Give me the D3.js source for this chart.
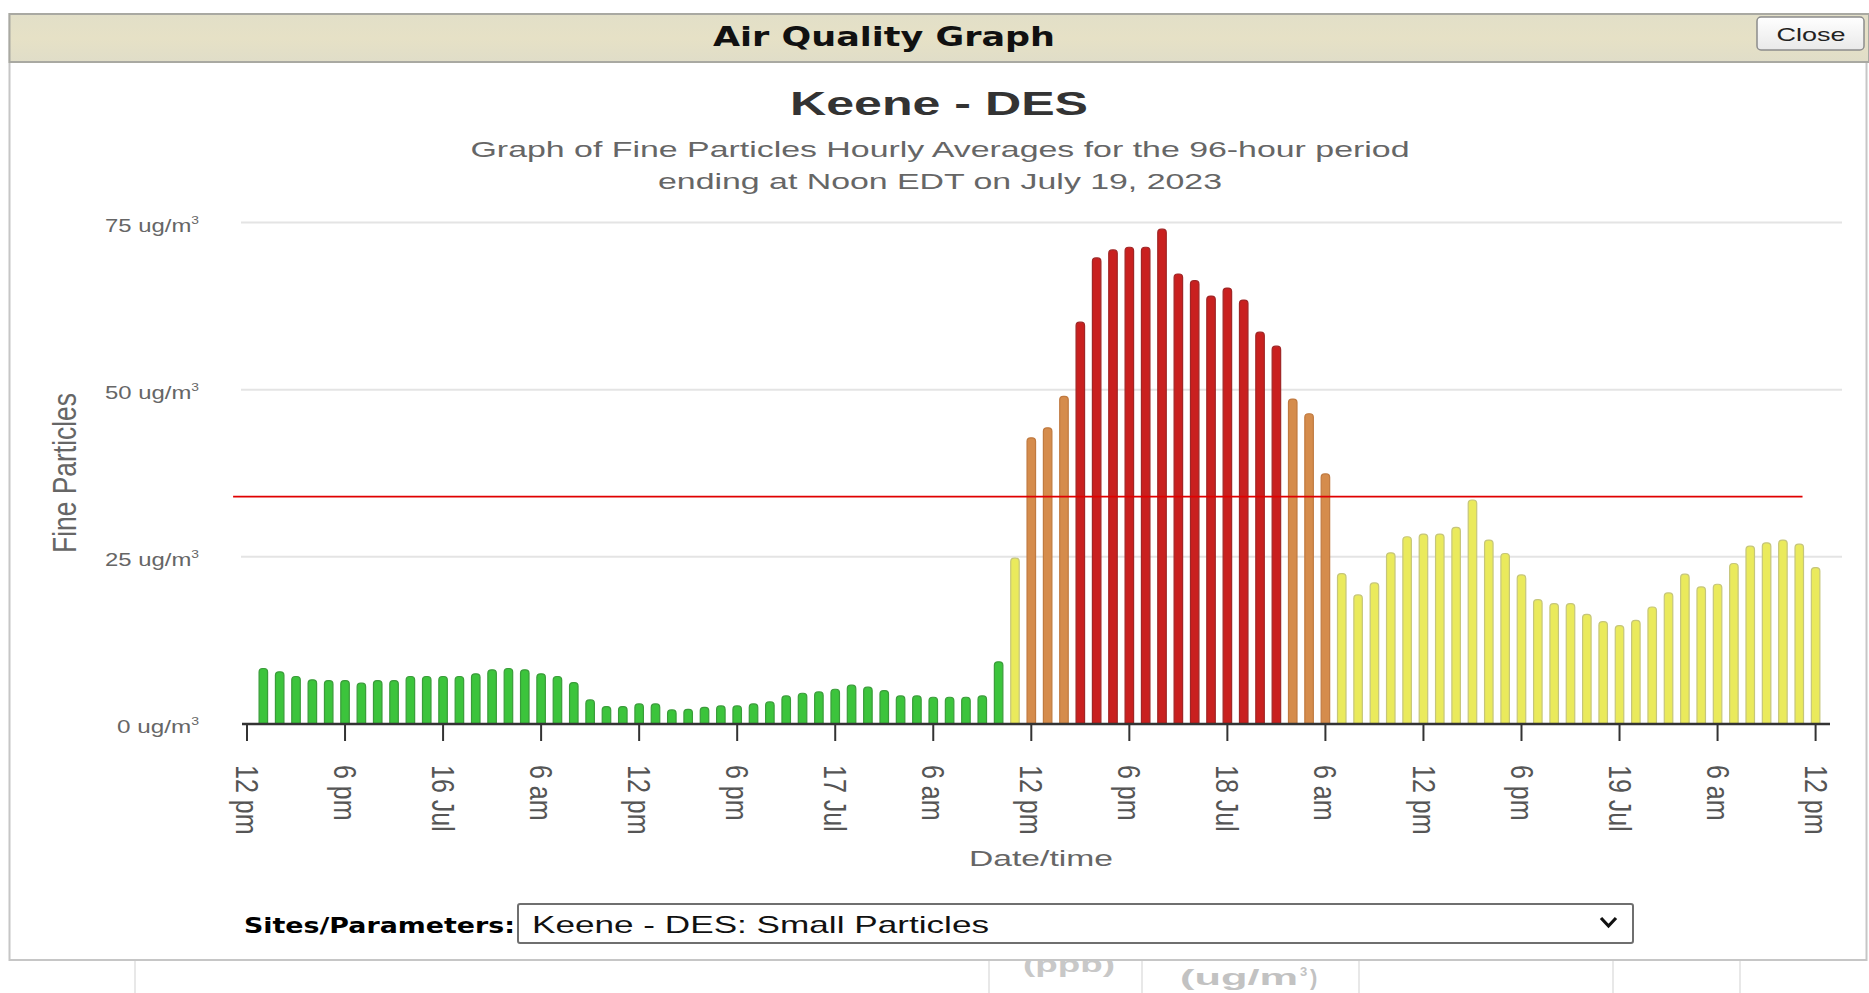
<!DOCTYPE html>
<html><head><meta charset="utf-8">
<script src="https://cdn.jsdelivr.net/npm/d3@7"></script>
<style>html,body{margin:0;padding:0;background:#fff;overflow:hidden}svg{display:block}</style>
</head><body>
<svg id="c" width="1869" height="993"></svg>
<script>
// ---------------- data ----------------
const hours = d3.range(1, 97);               // hour offsets from 12 pm Jul 15
const pm25 = [
  8.3, 7.8, 7.1, 6.6, 6.5, 6.5, 6.1, 6.5, 6.5, 7.1, 7.1, 7.1,
  7.1, 7.5, 8.1, 8.3, 8.1, 7.5, 7.1, 6.2, 3.6, 2.6, 2.6, 3.0,
  3.0, 2.1, 2.2, 2.5, 2.7, 2.7, 3.0, 3.3, 4.2, 4.6, 4.8, 5.2,
  5.8, 5.5, 5.0, 4.2, 4.2, 4.0, 4.0, 4.0, 4.2, 9.3, 24.8, 42.8,
  44.3, 49.0, 60.1, 69.7, 70.9, 71.3, 71.3, 74.0, 67.3, 66.3, 64.0, 65.2,
  63.4, 58.6, 56.5, 48.6, 46.4, 37.4, 22.5, 19.3, 21.1, 25.6, 28.0, 28.4,
  28.4, 29.4, 33.5, 27.5, 25.5, 22.3, 18.6, 18.0, 18.0, 16.4, 15.3, 14.7,
  15.5, 17.5, 19.6, 22.4, 20.5, 20.9, 24.0, 26.6, 27.1, 27.5, 26.9, 23.4
];
const tickHours = d3.range(0, 97, 6);
const tickLabels = ["12 pm","6 pm","16 Jul","6 am","12 pm","6 pm","17 Jul","6 am",
                    "12 pm","6 pm","18 Jul","6 am","12 pm","6 pm","19 Jul","6 am","12 pm"];
const yTicks = [0, 25, 50, 75];
const threshold = 34;
const aqiBreaks = [12.1, 35.5, 55.5];
const aqiFill   = ["#3cc43c", "#eaea5c", "#d58c4c", "#c9201f"];
const aqiStroke = ["#3a9c3a", "#c6c67a", "#c07a40", "#a02626"];

// ---------------- layout ----------------
const svg = d3.select("#c");
const FONT = "'Liberation Sans', Arial, sans-serif";
const x = d3.scaleLinear().domain([0, 96]).range([247, 1815.6]);
const y = d3.scaleLinear().domain([0, 75]).range([724, 222.5]);
const fillC = d3.scaleThreshold().domain(aqiBreaks).range(aqiFill);
const strokeC = d3.scaleThreshold().domain(aqiBreaks).range(aqiStroke);

function txt(parent, str, o) {
  const t = parent.append("text")
    .attr("x", o.x).attr("y", o.y)
    .attr("font-family", o.family || FONT)
    .attr("font-size", o.size)
    .attr("font-weight", o.weight || "normal")
    .attr("fill", o.fill || "#333")
    .attr("text-anchor", o.anchor || "start")
    .text(str);
  if (o.width) t.attr("textLength", o.width).attr("lengthAdjust", "spacingAndGlyphs");
  return t;
}

// ---------- background page content (behind dialog) ----------
const bg = svg.append("g");
[135, 989, 1142, 1359, 1613, 1740].forEach(v =>
  bg.append("line").attr("x1", v).attr("x2", v).attr("y1", 955).attr("y2", 993)
    .attr("stroke", "#e8e8e8").attr("stroke-width", 2));
txt(bg, "(ppb)", {x: 1069, y: 972, size: 22, weight: "bold", fill: "#c8c8c8", anchor: "middle", width: 92});
txt(bg, "(ug/m", {x: 1180, y: 985, size: 22, weight: "bold", fill: "#c2c2c2", width: 118});
bg.append("text").attr("x", 1300).attr("y", 976).attr("font-family", FONT).attr("font-size", 13)
  .attr("font-weight", "bold").attr("fill", "#c2c2c2").text("3");
txt(bg, ")", {x: 1310, y: 985, size: 22, weight: "bold", fill: "#c2c2c2"});

// ---------- dialog ----------
const dlg = svg.append("g");
dlg.append("rect").attr("x", 9.5).attr("y", 14).attr("width", 1857).attr("height", 946)
  .attr("fill", "#fff").attr("stroke", "#c6c6c6").attr("stroke-width", 2);
const defs = svg.append("defs");
const grad = defs.append("linearGradient").attr("id", "tb")
  .attr("x1", 0).attr("x2", 0).attr("y1", 0).attr("y2", 1);
grad.append("stop").attr("offset", 0).attr("stop-color", "#e2dfc8");
grad.append("stop").attr("offset", 0.5).attr("stop-color", "#e6e1c6");
grad.append("stop").attr("offset", 1).attr("stop-color", "#e0ddc8");
dlg.append("rect").attr("x", 9.5).attr("y", 14).attr("width", 1859.5).attr("height", 48)
  .attr("fill", "url(#tb)").attr("stroke", "#a9a9a2").attr("stroke-width", 2);
txt(dlg, "Air Quality Graph", {x: 884, y: 46, size: 27, weight: "bold", fill: "#111", anchor: "middle", width: 342,
  family: "'DejaVu Sans', Verdana, sans-serif"});
const bgrad = defs.append("linearGradient").attr("id", "btn")
  .attr("x1", 0).attr("x2", 0).attr("y1", 0).attr("y2", 1);
bgrad.append("stop").attr("offset", 0).attr("stop-color", "#ffffff");
bgrad.append("stop").attr("offset", 1).attr("stop-color", "#e9e9e9");
dlg.append("rect").attr("x", 1757).attr("y", 17).attr("width", 107).attr("height", 33).attr("rx", 4)
  .attr("fill", "url(#btn)").attr("stroke", "#8c8c8c").attr("stroke-width", 1.5);
txt(dlg, "Close", {x: 1811, y: 41, size: 19, fill: "#222", anchor: "middle", width: 69});

// ---------- chart ----------
const ch = svg.append("g");
txt(ch, "Keene - DES", {x: 939, y: 115, size: 33, weight: "bold", fill: "#333", anchor: "middle", width: 298});
txt(ch, "Graph of Fine Particles Hourly Averages for the 96-hour period",
  {x: 940, y: 157, size: 22, fill: "#666", anchor: "middle", width: 939});
txt(ch, "ending at Noon EDT on July 19, 2023",
  {x: 940, y: 189, size: 22, fill: "#666", anchor: "middle", width: 564});

// gridlines
ch.append("g").selectAll("line").data(yTicks.filter(d => d > 0)).join("line")
  .attr("x1", 241).attr("x2", 1842).attr("y1", d => y(d)).attr("y2", d => y(d))
  .attr("stroke", "#e4e4e4").attr("stroke-width", 2);

// y labels
const yl = ch.append("g");
yTicks.forEach(v => {
  const t = yl.append("text").attr("x", 199).attr("y", y(v) + 9)
    .attr("font-family", FONT).attr("font-size", 19).attr("fill", "#666").attr("text-anchor", "end")
    .attr("textLength", v === 0 ? 82 : 94).attr("lengthAdjust", "spacingAndGlyphs");
  t.append("tspan").text(v + " ug/m");
  t.append("tspan").attr("font-size", 11).attr("dy", -8).text("3");
});
txt(ch, "Fine Particles", {x: 0, y: 0, size: 26, fill: "#666", anchor: "middle", width: 160})
  .attr("dy", "0.35em").attr("transform", "translate(64,473) scale(1.3,1) rotate(-90)");

// bars
function barPath(cx, top, bottom, w, r) {
  const x0 = cx - w / 2, x1 = cx + w / 2;
  r = Math.min(r, (bottom - top));
  return `M${x0},${bottom}V${top + r}Q${x0},${top} ${x0 + r},${top}H${x1 - r}Q${x1},${top} ${x1},${top + r}V${bottom}Z`;
}
ch.append("g").selectAll("path").data(hours.map((h, i) => ({h, v: pm25[i]}))).join("path")
  .attr("d", d => barPath(x(d.h), y(d.v), y(0), 8.5, 3.5))
  .attr("fill", d => fillC(d.v)).attr("stroke", d => strokeC(d.v)).attr("stroke-width", 1.2);

// threshold line
ch.append("line").attr("x1", x(-0.85)).attr("x2", x(95.2)).attr("y1", y(threshold)).attr("y2", y(threshold))
  .attr("stroke", "#e00000").attr("stroke-width", 1.6);

// x axis
ch.append("line").attr("x1", 242).attr("x2", 1830).attr("y1", y(0)).attr("y2", y(0))
  .attr("stroke", "#333").attr("stroke-width", 2.5);
const xt = ch.append("g");
xt.selectAll("line").data(tickHours).join("line")
  .attr("x1", d => x(d)).attr("x2", d => x(d)).attr("y1", y(0)).attr("y2", y(0) + 17)
  .attr("stroke", "#333").attr("stroke-width", 2);
xt.selectAll("text").data(tickHours).join("text")
  .attr("transform", d => `translate(${x(d)},765) scale(1.25,1) rotate(90)`)
  .attr("dy", "0.35em").attr("font-family", FONT).attr("font-size", 25).attr("fill", "#555")
  .text((d, i) => tickLabels[i]);
txt(ch, "Date/time", {x: 1041, y: 866, size: 22, fill: "#666", anchor: "middle", width: 144});

// ---------- site selector ----------
txt(dlg, "Sites/Parameters:", {x: 244, y: 933, size: 22, weight: "bold", fill: "#000", width: 271,
  family: "'DejaVu Sans', Verdana, sans-serif"});
dlg.append("rect").attr("x", 518).attr("y", 904).attr("width", 1115).attr("height", 39).attr("rx", 2)
  .attr("fill", "#fff").attr("stroke", "#6f6f6f").attr("stroke-width", 2);
txt(dlg, "Keene - DES: Small Particles", {x: 532, y: 933, size: 24, fill: "#111", width: 457});
dlg.append("path").attr("d", "M1601,918 L1608.5,926 L1616,918")
  .attr("fill", "none").attr("stroke", "#111").attr("stroke-width", 3.2);
</script>
</body></html>
